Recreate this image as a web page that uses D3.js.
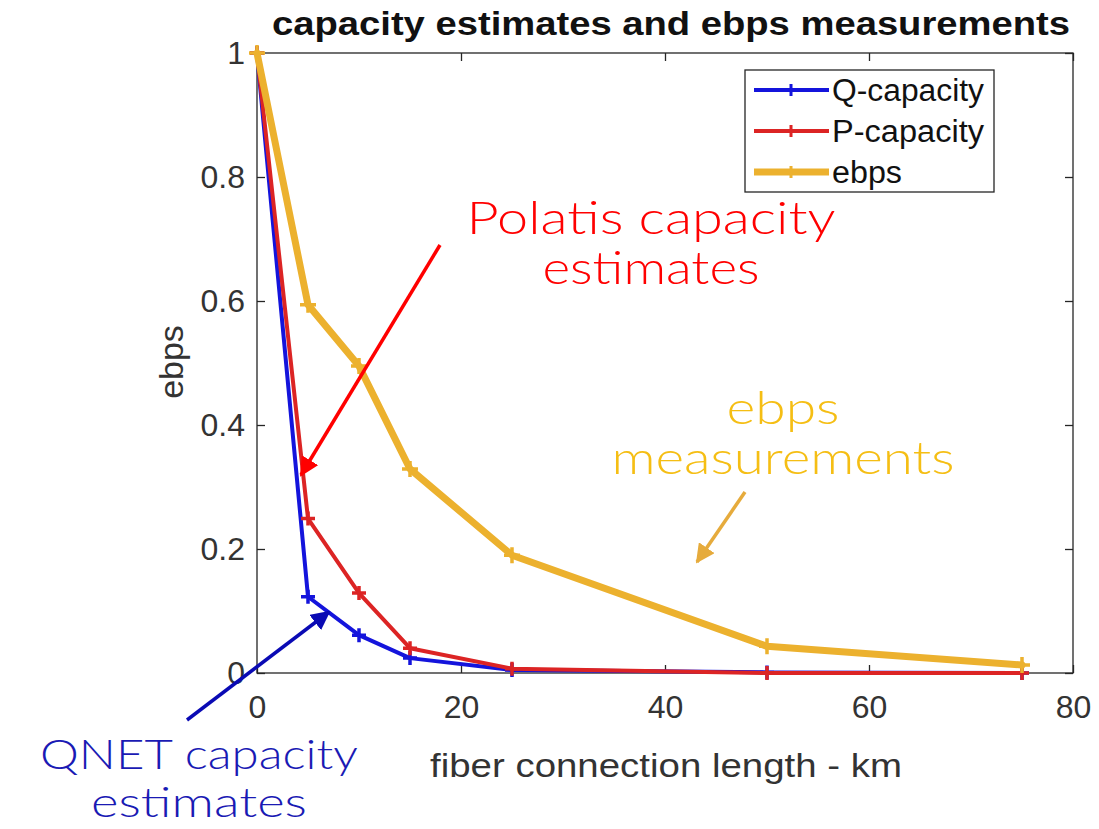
<!DOCTYPE html>
<html><head><meta charset="utf-8">
<script src="https://cdn.jsdelivr.net/npm/d3@7"></script>
<style>body{margin:0;background:#fff}svg{display:block}</style>
</head><body>
<script>
const xValues = [0, 5, 10, 15, 25, 50, 75];
const qCapacity = [1, 0.123, 0.061, 0.024, 0.005, 0.001, 0.0];
const pCapacity = [1, 0.249, 0.129, 0.040, 0.007, 0.0, 0.0];
const ebps = [1, 0.594, 0.495, 0.329, 0.19, 0.043, 0.013];
const seriesNames = ["Q-capacity", "P-capacity", "ebps"];
const xTicks = [0, 20, 40, 60, 80];
const yTicks = [0, 0.2, 0.4, 0.6, 0.8, 1];

const W = 1099, H = 829;
const L = 257, R = 1073, T = 53, B = 673;
const svg = d3.select("body").append("svg").attr("width", W).attr("height", H);
const x = d3.scaleLinear().domain([0, 80]).range([L, R]);
const y = d3.scaleLinear().domain([0, 1]).range([B, T]);
const baseFont = "Liberation Sans, Arial, sans-serif";

svg.append("rect").attr("x", L).attr("y", T).attr("width", R - L).attr("height", B - T)
  .attr("fill", "none").attr("stroke", "#262626").attr("stroke-width", 1.3);

const tickFmt = d => d === 0 ? "0" : d === 1 ? "1" : d3.format(".1f")(d);
const xAxis = svg.append("g").attr("transform", `translate(0,${B})`)
  .call(d3.axisBottom(x).tickValues(xTicks).tickSizeInner(-8).tickSizeOuter(0).tickPadding(22));
const yAxis = svg.append("g").attr("transform", `translate(${L},0)`)
  .call(d3.axisLeft(y).tickValues(yTicks).tickFormat(tickFmt).tickSizeInner(-8).tickSizeOuter(0).tickPadding(12));
const xTop = svg.append("g").attr("transform", `translate(0,${T})`)
  .call(d3.axisTop(x).tickValues(xTicks).tickSizeInner(-8).tickSizeOuter(0).tickFormat(""));
const yRight = svg.append("g").attr("transform", `translate(${R},0)`)
  .call(d3.axisRight(y).tickValues(yTicks).tickSizeInner(-8).tickSizeOuter(0).tickFormat(""));
[xAxis, yAxis, xTop, yRight].forEach(g => {
  g.select(".domain").remove();
  g.selectAll("line").attr("stroke", "#262626").attr("stroke-width", 1.3);
  g.selectAll("text").attr("fill", "#333").attr("font-family", baseFont).attr("font-size", 32);
});
xAxis.selectAll("text").attr("dy", "0.72em");

svg.append("text").attr("x", 671).attr("y", 35).attr("text-anchor", "middle")
  .attr("font-family", baseFont).attr("font-weight", "bold").attr("font-size", 34)
  .attr("fill", "#111").attr("textLength", 798).attr("lengthAdjust", "spacingAndGlyphs")
  .text("capacity estimates and ebps measurements");
svg.append("text").attr("x", 666).attr("y", 777).attr("text-anchor", "middle")
  .attr("font-family", baseFont).attr("font-size", 33).attr("fill", "#333")
  .attr("textLength", 472).attr("lengthAdjust", "spacingAndGlyphs")
  .text("fiber connection length - km");
svg.append("text").attr("transform", "translate(183,362) rotate(-90)").attr("text-anchor", "middle")
  .attr("font-family", baseFont).attr("font-size", 34).attr("fill", "#333")
  .text("ebps");

const series = [
  {name: seriesNames[0], vals: qCapacity, color: "#1414dc", w: 4, ms: 7},
  {name: seriesNames[1], vals: pCapacity, color: "#dc2424", w: 4, ms: 7},
  {name: seriesNames[2], vals: ebps, color: "#ecb12e", w: 7, ms: 8},
];
const line = d3.line().x(d => x(d[0])).y(d => y(d[1]));
[0, 1, 2].forEach(i => {
  const s = series[i];
  const pts = xValues.map((xv, j) => [xv, s.vals[j]]);
  svg.append("path").datum(pts).attr("d", line).attr("fill", "none")
    .attr("stroke", s.color).attr("stroke-width", s.w).attr("stroke-linejoin", "round").attr("stroke-linecap", "round");
  svg.append("g").selectAll("path").data(pts).join("path")
    .attr("d", d => `M${x(d[0]) - s.ms},${y(d[1])}h${2 * s.ms}M${x(d[0])},${y(d[1]) - s.ms}v${2 * s.ms}`)
    .attr("stroke", s.color).attr("stroke-width", 3.5);
});

const lg = svg.append("g");
lg.append("rect").attr("x", 745).attr("y", 70).attr("width", 249).attr("height", 122)
  .attr("fill", "#fff").attr("stroke", "#262626").attr("stroke-width", 1.3);
series.forEach((s, i) => {
  const yy = 90 + i * 41;
  lg.append("line").attr("x1", 754).attr("x2", 829).attr("y1", yy).attr("y2", yy)
    .attr("stroke", s.color).attr("stroke-width", s.w);
  lg.append("path").attr("d", `M${791 - 6},${yy}h12M791,${yy - 6}v12`).attr("stroke", s.color).attr("stroke-width", 3);
  lg.append("text").attr("x", 832).attr("y", yy).attr("dy", "0.36em")
    .attr("font-family", baseFont).attr("font-size", 31).attr("fill", "#111")
    .attr("textLength", i === 2 ? 70 : 152).attr("lengthAdjust", "spacingAndGlyphs")
    .text(s.name);
});

const defs = svg.append("defs");
function marker(id, color) {
  defs.append("marker").attr("id", id).attr("viewBox", "0 0 10 10").attr("refX", 9).attr("refY", 5)
    .attr("markerWidth", 5.5).attr("markerHeight", 5.5).attr("orient", "auto")
    .append("path").attr("d", "M0,0L10,5L0,10z").attr("fill", color);
}
marker("ar", "#ff0000"); marker("ay", "#e6ab3c"); marker("ab", "#0a0ab4");
function arrow(x1, y1, x2, y2, color, id) {
  svg.append("line").attr("x1", x1).attr("y1", y1).attr("x2", x2).attr("y2", y2)
    .attr("stroke", color).attr("stroke-width", 3.5).attr("marker-end", `url(#${id})`);
}
arrow(440, 245, 301, 475, "#ff0000", "ar");
arrow(745, 492, 697, 562, "#e6ab3c", "ay");
arrow(187, 720, 329, 612, "#0a0ab4", "ab");

const annFont = "Lato, 'Open Sans', sans-serif";
function ann(lines, widths, cx, baselines, color, size) {
  lines.forEach((t, i) => svg.append("text").attr("x", cx).attr("y", baselines[i]).attr("text-anchor", "middle")
    .attr("font-family", annFont).attr("font-weight", 300).attr("font-size", size).attr("fill", color)
    .attr("textLength", widths[i]).attr("lengthAdjust", "spacingAndGlyphs").text(t));
}
ann(["Polatis capacity", "estimates"], [369, 217], 651, [234, 284], "#ff0000", 45);
ann(["ebps", "measurements"], [113, 343], 783, [424, 474], "#f5be14", 45);
ann(["QNET capacity", "estimates"], [318, 216], 199, [769, 817], "#1a1ab4", 42);
</script>
</body></html>
